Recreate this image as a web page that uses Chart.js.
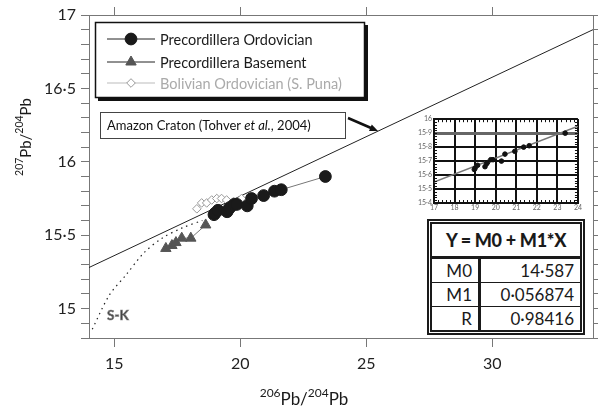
<!DOCTYPE html>
<html>
<head>
<meta charset="utf-8">
<script src="https://cdn.jsdelivr.net/npm/chart.js@4.4.0/dist/chart.umd.min.js"></script>
<style>
  body { margin: 0; background: #fff; }
  #wrap { position: relative; width: 600px; height: 409px; font-family: Lato, sans-serif; }
  #main { position: absolute; left: 0; top: 0; }
  #inset { position: absolute; left: 405px; top: 113px; }
  #fit { position: absolute; left: 427px; top: 219px; width: 148px; height: 106px;
         border: 5px double #1a1a1a; background: #fff; }
  #fit table { width: 100%; height: 100%; border-collapse: collapse; color: #1a1a1a; }
  #fit th { font-weight: 900; font-size: 18px; height: 30px; border-bottom: 3px solid #1a1a1a; letter-spacing: -0.3px; }
  #fit td { font-size: 17px; text-align: right; padding: 0 6px 0 0; border-top: 1.5px solid #1a1a1a; }
  #fit td.k { width: 40px; border-right: 3px solid #1a1a1a; }
</style>
</head>
<body>
<div id="wrap">
  <canvas id="main" width="600" height="409"></canvas>
  <canvas id="inset" width="178" height="100"></canvas>
  <div id="fit">
    <table>
      <tr><th colspan="2">Y = M0 + M1*X</th></tr>
      <tr><td class="k">M0</td><td>14·587</td></tr>
      <tr><td class="k">M1</td><td>0·056874</td></tr>
      <tr><td class="k">R</td><td>0·98416</td></tr>
    </table>
  </div>
</div>
<script>
// values
const ordX = [18.96, 19.0, 19.12, 19.48, 19.55, 19.6, 19.76, 19.87, 20.28, 20.45, 20.93, 21.36, 21.63, 23.38];
const ordY = [15.64, 15.65, 15.67, 15.66, 15.68, 15.69, 15.71, 15.71, 15.70, 15.75, 15.77, 15.80, 15.81, 15.90];
const basX = [17.05, 17.29, 17.45, 17.68, 18.04, 18.63];
const basY = [15.41, 15.43, 15.45, 15.48, 15.48, 15.57];
const bolX = [18.28, 18.47, 18.67, 18.87, 19.07, 19.26, 19.46, 19.74, 20.05];
const bolY = [15.68, 15.72, 15.72, 15.74, 15.75, 15.75, 15.74, 15.73, 15.75];
const amzX = [14, 34];
const amzY = [15.28, 16.90];
const skX = [14.13, 14.8, 15.47, 16.18, 16.9, 17.7, 18.5];
const skY = [14.86, 15.09, 15.23, 15.38, 15.48, 15.55, 15.60];
const fitX = [17, 24];
const fitY = [15.55, 15.95];

const seriesNames = ['Precordillera Ordovician', 'Precordillera Basement', 'Bolivian Ordovician (S. Puna)'];
const xTicks = [15, 20, 25, 30];
const insetXTicks = [17, 18, 19, 20, 21, 22, 23, 24];

const pts = (xs, ys) => xs.map((x, i) => ({ x: x, y: ys[i] }));
const dot = v => String(+v.toFixed(2)).replace('.', '\u00B7');
const FONT = 'Lato, sans-serif';

// draws text with superscripts, parts = [[text, size, raise]]
function supText(ctx, parts, x, y) {
  let w = 0;
  parts.forEach(p => { ctx.font = p[1] + 'px ' + FONT; w += ctx.measureText(p[0]).width; });
  let cx = x - w / 2;
  ctx.textAlign = 'left';
  ctx.textBaseline = 'alphabetic';
  parts.forEach(p => {
    ctx.font = p[1] + 'px ' + FONT;
    ctx.fillText(p[0], cx, y - p[2]);
    cx += ctx.measureText(p[0]).width;
  });
}

const decor = {
  id: 'decor',
  afterDraw(chart) {
    const ctx = chart.ctx;
    ctx.save();
    // legend box with drop shadow
    ctx.fillStyle = '#111';
    ctx.fillRect(98, 25, 270, 76);
    ctx.fillStyle = '#fff';
    ctx.fillRect(96, 23, 268, 74);
    ctx.strokeStyle = '#111';
    ctx.lineWidth = 1.5;
    ctx.strokeRect(95.5, 22.5, 269, 75);
    const rowsY = [39, 62, 83];
    const txtCol = ['#1a1a1a', '#1a1a1a', '#aaa'];
    chart.data.datasets.slice(0, 3).forEach((ds, i) => {
      const y = rowsY[i];
      ctx.strokeStyle = i === 2 ? '#bbb' : '#222';
      ctx.lineWidth = 1;
      ctx.beginPath(); ctx.moveTo(107, y); ctx.lineTo(155, y); ctx.stroke();
      ctx.fillStyle = ds.pointBackgroundColor;
      ctx.strokeStyle = ds.pointBorderColor;
      ctx.lineWidth = 1;
      Chart.helpers.drawPoint(ctx, { pointStyle: ds.pointStyle, radius: ds.pointRadius, rotation: 0, borderWidth: 1 }, 131, y);
      ctx.fillStyle = txtCol[i];
      ctx.font = '14.5px ' + FONT;
      ctx.textAlign = 'left';
      ctx.textBaseline = 'middle';
      ctx.fillText(ds.label, 160, y + 1);
    });

    // Amazon craton label
    ctx.fillStyle = '#fff';
    ctx.fillRect(101, 113, 244, 25);
    ctx.strokeStyle = '#444';
    ctx.lineWidth = 1;
    ctx.strokeRect(100.5, 112.5, 245, 26);
    ctx.fillStyle = '#111';
    ctx.textBaseline = 'alphabetic';
    let tx = 107;
    [['Amazon Craton (Tohver ', ''], ['et al.', 'italic '], [', 2004)', '']].forEach(p => {
      ctx.font = p[1] + '13px ' + FONT;
      ctx.fillText(p[0], tx, 130);
      tx += ctx.measureText(p[0]).width;
    });
    // arrow to the line
    const ax0 = 348, ay0 = 118, ax1 = 378, ay1 = 131;
    const ang = Math.atan2(ay1 - ay0, ax1 - ax0);
    ctx.strokeStyle = '#111';
    ctx.lineWidth = 2.5;
    ctx.beginPath(); ctx.moveTo(ax0, ay0); ctx.lineTo(ax1 - 5 * Math.cos(ang), ay1 - 5 * Math.sin(ang)); ctx.stroke();
    ctx.fillStyle = '#111';
    ctx.beginPath();
    ctx.moveTo(ax1, ay1);
    ctx.lineTo(ax1 - 9 * Math.cos(ang - 0.4), ay1 - 9 * Math.sin(ang - 0.4));
    ctx.lineTo(ax1 - 9 * Math.cos(ang + 0.4), ay1 - 9 * Math.sin(ang + 0.4));
    ctx.closePath(); ctx.fill();

    // S-K label
    ctx.font = 'bold 13.5px ' + FONT;
    ctx.fillStyle = '#444';
    ctx.strokeStyle = '#888';
    ctx.lineWidth = 0.7;
    ctx.fillText('S-K', 107, 320);
    ctx.strokeText('S-K', 107, 320);

    // axis titles
    ctx.fillStyle = '#1a1a1a';
    supText(ctx, [['206', 12, 8], ['Pb/', 17, 0], ['204', 12, 8], ['Pb', 17, 0]], 304, 405);
    ctx.translate(31, 137);
    ctx.rotate(-Math.PI / 2);
    supText(ctx, [['207', 10.5, 8], ['Pb/', 15, 0], ['204', 10.5, 8], ['Pb', 15, 0]], 0, 0);
    ctx.restore();
  }
};

const axisGrey = '#777';
const setTicks = list => s => { s.ticks = list.map(v => ({ value: v })); };

new Chart(document.getElementById('main'), {
  type: 'scatter',
  data: {
    datasets: [
      { label: seriesNames[0], data: pts(ordX, ordY), showLine: true, borderColor: '#777', borderWidth: 1,
        pointStyle: 'circle', pointRadius: 5.9, pointBackgroundColor: '#1a1a1a', pointBorderColor: '#1a1a1a', order: 1 },
      { label: seriesNames[1], data: pts(basX, basY), showLine: true, borderColor: '#777', borderWidth: 1,
        pointStyle: 'triangle', pointRadius: 6, pointBackgroundColor: '#555', pointBorderColor: '#555', order: 2 },
      { label: seriesNames[2], data: pts(bolX, bolY), showLine: true, borderColor: '#bbb', borderWidth: 1,
        pointStyle: 'rectRot', pointRadius: 4.3, pointBackgroundColor: '#fff', pointBorderColor: '#999', order: 3 },
      { label: 'Amazon Craton', data: pts(amzX, amzY), showLine: true, borderColor: '#222', borderWidth: 1,
        pointRadius: 0, order: 4 },
      { label: 'S-K', data: pts(skX, skY), showLine: true, borderColor: '#222', borderWidth: 1.2,
        borderDash: [1.5, 4], tension: 0.3, pointRadius: 0, order: 5 }
    ]
  },
  options: {
    responsive: false,
    animation: false,
    devicePixelRatio: 1,
    layout: { padding: 0 },
    plugins: { legend: { display: false }, tooltip: { enabled: false } },
    scales: {
      x: {
        type: 'linear', position: 'bottom', min: 14, max: 34,
        afterBuildTicks: setTicks(xTicks),
        ticks: { color: '#222', padding: 7, maxRotation: 0, font: { family: FONT, size: 16 } },
        grid: { drawOnChartArea: false, tickLength: 9, color: axisGrey },
        border: { color: axisGrey, width: 1 },
        afterFit: s => { s.height = 71; s.paddingLeft = 0; s.paddingRight = 0; }
      },
      xT: {
        type: 'linear', position: 'top', min: 14, max: 34,
        afterBuildTicks: setTicks(xTicks),
        ticks: { display: false },
        grid: { drawOnChartArea: false, tickLength: 8, color: axisGrey },
        border: { color: axisGrey, width: 1 },
        afterFit: s => { s.height = 15; s.paddingLeft = 0; s.paddingRight = 0; }
      },
      y: {
        type: 'linear', position: 'left', min: 14.8, max: 17,
        ticks: {
          stepSize: 0.1, includeBounds: false, autoSkip: false, color: '#222', padding: 5,
          font: { family: FONT, size: 16 },
          callback: v => Math.abs(v * 2 - Math.round(v * 2)) < 1e-6 ? dot(v) : ''
        },
        grid: { drawOnChartArea: false, tickLength: 8, color: axisGrey },
        border: { color: axisGrey, width: 1 },
        afterFit: s => { s.width = 89; }
      },
      yR: {
        type: 'linear', position: 'right', min: 14.8, max: 17,
        ticks: { stepSize: 0.1, includeBounds: false, autoSkip: false, display: false },
        grid: { drawOnChartArea: false, tickLength: 5, color: axisGrey },
        border: { color: axisGrey, width: 1 },
        afterFit: s => { s.width = 5; }
      }
    }
  },
  plugins: [decor]
});

// small regression inset
const insetTicks = {
  id: 'insetTicks',
  beforeDraw(chart) {
    const ctx = chart.ctx, a = chart.chartArea;
    ctx.save();
    ctx.fillStyle = '#fff';
    ctx.fillRect(a.left, a.top, a.right - a.left, a.bottom - a.top);
    ctx.restore();
  },
  afterDraw(chart) {
    const ctx = chart.ctx, a = chart.chartArea;
    const xs = chart.scales.x, ys = chart.scales.y;
    ctx.save();
    ctx.strokeStyle = '#111';
    ctx.lineWidth = 1;
    for (let v = 170; v <= 240; v += 2) {
      const px = Math.round(xs.getPixelForValue(v / 10)) + 0.5;
      ctx.beginPath(); ctx.moveTo(px, a.bottom); ctx.lineTo(px, a.bottom - 3);
      ctx.moveTo(px, a.top); ctx.lineTo(px, a.top + 3); ctx.stroke();
    }
    for (let v = 1540; v <= 1600; v += 2) {
      const py = Math.round(ys.getPixelForValue(v / 100)) + 0.5;
      ctx.beginPath(); ctx.moveTo(a.left, py); ctx.lineTo(a.left + 3, py);
      ctx.moveTo(a.right, py); ctx.lineTo(a.right - 3, py); ctx.stroke();
    }
    ctx.restore();
  }
};

new Chart(document.getElementById('inset'), {
  type: 'scatter',
  data: {
    datasets: [
      { data: pts(fitX, fitY), showLine: true, borderColor: '#777', borderWidth: 1.5, pointRadius: 0, order: 2 },
      { data: pts(ordX, ordY), pointRadius: 2.3, pointBackgroundColor: '#111', pointBorderColor: '#111', order: 1 }
    ]
  },
  options: {
    responsive: false,
    animation: false,
    devicePixelRatio: 1,
    layout: { padding: { top: 6, right: 3, left: 0, bottom: 0 } },
    plugins: { legend: { display: false }, tooltip: { enabled: false } },
    scales: {
      x: {
        type: 'linear', min: 17, max: 24,
        afterBuildTicks: setTicks(insetXTicks),
        ticks: { color: '#666', padding: 1, maxRotation: 0, font: { family: FONT, size: 7 } },
        grid: { color: '#111', lineWidth: 2, tickLength: 0 },
        border: { color: '#111', width: 2 },
        afterFit: s => { s.height = 10; }
      },
      y: {
        type: 'linear', min: 15.4, max: 16,
        ticks: { stepSize: 0.1, includeBounds: false, autoSkip: false, color: '#666', padding: 2,
                 font: { family: FONT, size: 7 }, callback: v => dot(v) },
        grid: {
          color: c => (c.tick && Math.abs(c.tick.value - 15.9) < 1e-6) ? '#666' : '#111',
          lineWidth: c => (c.tick && Math.abs(c.tick.value - 15.9) < 1e-6) ? 3 : 2,
          tickLength: 0
        },
        border: { color: '#111', width: 2 },
        afterFit: s => { s.width = 29; }
      }
    }
  },
  plugins: [insetTicks]
});
</script>
</body>
</html>
